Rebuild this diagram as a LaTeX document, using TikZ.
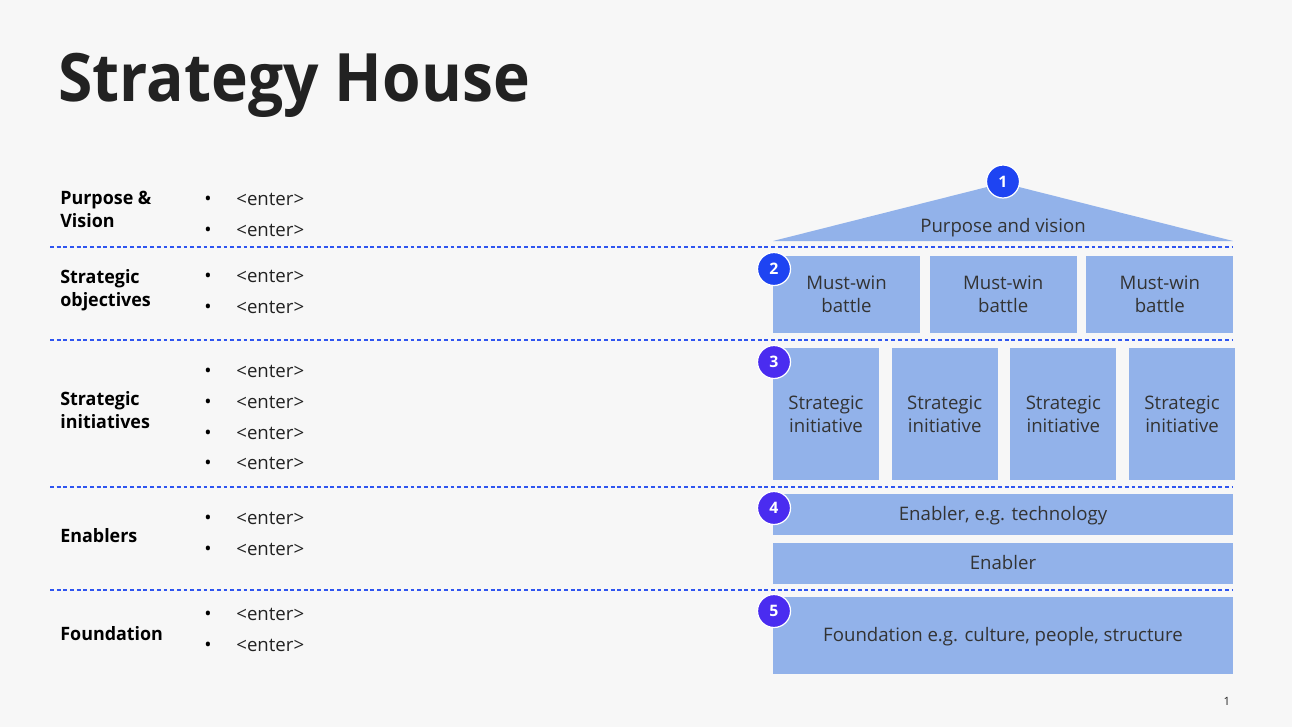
\documentclass[tikz,border=0pt]{standalone}
\usepackage{fontspec}
\setmainfont{Open Sans}
\usepackage{tikz}
\usetikzlibrary{positioning}
\definecolor{PageBg}{HTML}{F7F7F7}
\definecolor{HouseBlue}{HTML}{92B2EA}
\definecolor{DashBlue}{HTML}{2F55F0}
\definecolor{BadgeBlue}{HTML}{1E44F2}
\definecolor{BadgeViolet}{HTML}{4A2CF0}
\definecolor{InkDark}{HTML}{222222}
\definecolor{InkBox}{HTML}{333333}
\newcommand{\narrowbold}[1]{\scalebox{0.97}[1]{\bfseries #1}}

\begin{document}
\begin{tikzpicture}[x=0.02cm,y=-0.02cm,
    housebox/.style={fill=HouseBlue, text=InkBox, inner sep=0pt, align=center,
        font=\fontsize{10.6}{13}\selectfont},
    oneline/.style={text height=1.33ex, text depth=0pt},
    badge/.style={circle, fill=#1, draw=white, line width=0.7pt, minimum size=0.66cm,
        inner sep=0pt, text=white, font=\fontsize{9}{10}\selectfont\bfseries},
    rowlabel/.style={anchor=west, align=left, inner sep=0pt, text=black,
        font=\fontsize{10.5}{13}\selectfont},
    bulletdot/.style={inner sep=0pt, font=\fontsize{11}{12}\selectfont},
    entry/.style={anchor=west, inner sep=0pt, text=InkDark, font=\fontsize{10.6}{12}\selectfont},
    divider/.style={DashBlue, line width=0.6pt, dash pattern=on 2.2pt off 1.6pt}]

    \useasboundingbox[fill=PageBg] (0,0) rectangle (1292,727);

    % title
    \node[anchor=base west, inner sep=0pt, text=InkDark, font=\fontsize{38}{44}\selectfont\bfseries]
        (title) at (58,101) {\scalebox{0.933}[1]{Strategy House}};

    % left column
    \node[rowlabel] (lpurpose) at (60,209) {\narrowbold{Purpose \&}\\\narrowbold{Vision}};
    \node[rowlabel] (lobjectives) at (60,290) {\narrowbold{Strategic}\\\narrowbold{objectives}};
    \node[rowlabel] (linitiatives) at (60,410) {\narrowbold{Strategic}\\\narrowbold{initiatives}};
    \node[rowlabel] (lenablers) at (60,536) {\narrowbold{Enablers}};
    \node[rowlabel] (lfoundation) at (60,634) {\narrowbold{Foundation}};

    \foreach \yy [count=\i] in {199,230,276,307,371,402,433,463,518,549,614,645} {
        \node[bulletdot] (dot\i) at (208,\yy+1.5) {\textbullet};
        \node[entry] (entry\i) at (236,\yy) {<enter>};
    }

    % dividers
    \foreach \yy [count=\i] in {247,340,487,590} {
        \coordinate (dl\i) at (50,\yy);
        \coordinate (dr\i) at (1233,\yy);
        \draw[divider] (dl\i) -- (dr\i);
    }

    % roof
    \coordinate (roofl) at (773,241);
    \coordinate (rooft) at (1003,183);
    \coordinate (roofr) at (1233,241);
    \fill[HouseBlue] (roofl) -- (rooft) -- (roofr) -- cycle;
    \node[oneline, inner sep=0pt, text=InkBox, font=\fontsize{10.6}{13}\selectfont] (roof) at (1003,226) {Purpose and vision};

    % must-win battles
    \node[housebox, minimum width=2.94cm, minimum height=1.54cm] (mw1) at (846.5,294.5) {Must-win\\battle};
    \node[housebox, minimum width=2.94cm, minimum height=1.54cm, right=0.18cm of mw1] (mw2) {Must-win\\battle};
    \node[housebox, minimum width=2.94cm, minimum height=1.54cm, right=0.18cm of mw2] (mw3) {Must-win\\battle};

    % strategic initiatives
    \node[housebox, minimum width=2.12cm, minimum height=2.66cm] (si1) at (826,414) {Strategic\\initiative};
    \node[housebox, minimum width=2.12cm, minimum height=2.66cm, right=0.24cm of si1] (si2) {Strategic\\initiative};
    \node[housebox, minimum width=2.12cm, minimum height=2.66cm, right=0.24cm of si2] (si3) {Strategic\\initiative};
    \node[housebox, minimum width=2.12cm, minimum height=2.66cm, right=0.24cm of si3] (si4) {Strategic\\initiative};

    % enablers and foundation
    \node[housebox, oneline, minimum width=9.2cm, minimum height=0.82cm] (en1) at (1003,514) {Enabler, e.g. technology};
    \node[housebox, oneline, minimum width=9.2cm, minimum height=0.82cm, below=0.16cm of en1] (en2) {Enabler};
    \node[housebox, oneline, minimum width=9.2cm, minimum height=1.54cm] (fd) at (1003,635.5) {Foundation e.g. culture, people, structure};

    % badges
    \node[badge=BadgeBlue] (b1) at (1003,181.5) {1};
    \node[badge=BadgeBlue] (b2) at (774,269) {2};
    \node[badge=BadgeViolet] (b3) at (774,362) {3};
    \node[badge=BadgeViolet] (b4) at (774,508) {4};
    \node[badge=BadgeViolet] (b5) at (774,611) {5};

    \node[text=InkDark, font=\fontsize{6.5}{8}\selectfont] (pageno) at (1227,701) {1};
\end{tikzpicture}
\end{document}
